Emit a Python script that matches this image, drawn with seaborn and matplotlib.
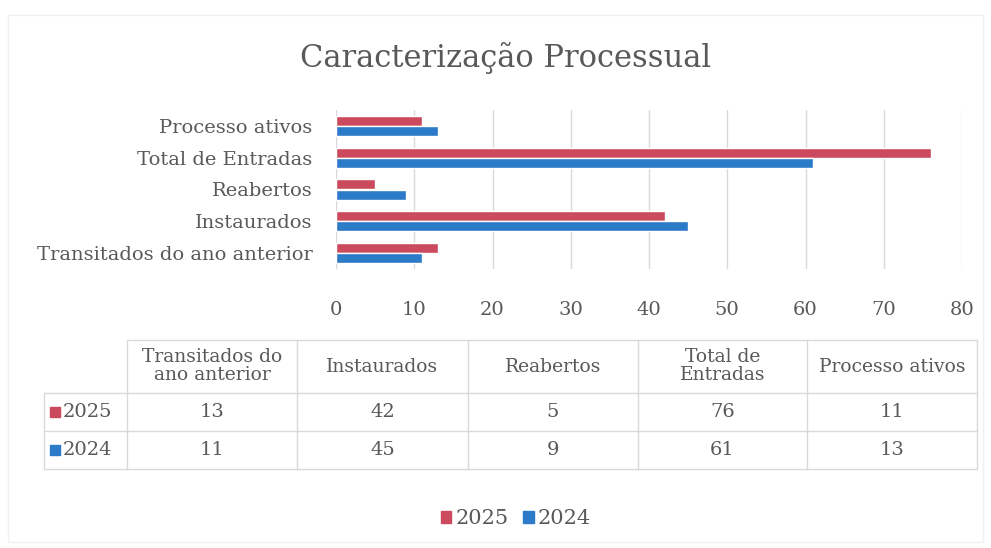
import seaborn as sns
import pandas as pd
import matplotlib.pyplot as plt
from matplotlib.patches import Rectangle

# Data
categories = ['Transitados do ano anterior', 'Instaurados', 'Reabertos',
              'Total de Entradas', 'Processo ativos']
table_headers = ['Transitados do\nano anterior', 'Instaurados', 'Reabertos',
                 'Total de\nEntradas', 'Processo ativos']
years = ['2025', '2024']
values_2025 = [13, 42, 5, 76, 11]
values_2024 = [11, 45, 9, 61, 13]
x_ticks = [0, 10, 20, 30, 40, 50, 60, 70, 80]

colors = {'2025': '#CC4A5E', '2024': '#2C7BC9'}
text_color = '#595959'
grid_color = '#D9D9D9'

sns.set_style('white')
plt.rcParams['font.family'] = ['DejaVu Serif']

# long format table for seaborn
df = pd.DataFrame({
    'categoria': categories * 2,
    'ano': ['2025'] * len(categories) + ['2024'] * len(categories),
    'valor': values_2025 + values_2024,
})

W, H = 991, 548
fig = plt.figure(figsize=(W / 100, H / 100), dpi=100)

# faint outer frame of the chart
fig.patches.append(Rectangle((8 / W, 6 / H), 975 / W, 527 / H, transform=fig.transFigure,
                             fill=False, edgecolor='#F0F0F0', linewidth=1))

fig.text(506 / W, 1 - 58 / H, 'Caracterização Processual', ha='center', va='center',
         fontsize=22, color=text_color)

ax = fig.add_axes([336 / W, 1 - 269 / H, 626 / W, 159 / H])
sns.barplot(data=df, y='categoria', x='valor', hue='ano', order=categories[::-1],
            hue_order=years, palette=colors, orient='h', width=0.64, saturation=1,
            ax=ax, legend=False)
ax.set_xlim(0, 80)
ax.set_xticks(x_ticks)
ax.set_xlabel('')
ax.set_ylabel('')
ax.grid(axis='x', color=grid_color, linewidth=1)
ax.set_axisbelow(True)
for s in ax.spines.values():
    s.set_visible(False)
ax.tick_params(axis='y', length=0, pad=17, labelsize=14, labelcolor=text_color)
ax.tick_params(axis='x', length=0, pad=23, labelsize=14, labelcolor=text_color)

# data table under the chart, in pixel coordinates
tab = fig.add_axes([0, 0, 1, 1])
tab.set_xlim(0, W)
tab.set_ylim(H, 0)
tab.axis('off')
col_edges = [127, 297, 468, 638, 807, 977]
row_edges = [340, 393, 431, 469]
line_kw = dict(color=grid_color, linewidth=1)
tab.plot([col_edges[0], col_edges[-1]], [row_edges[0]] * 2, **line_kw)
for y in row_edges[1:]:
    tab.plot([44, col_edges[-1]], [y, y], **line_kw)
for x in col_edges:
    tab.plot([x, x], [row_edges[0], row_edges[-1]], **line_kw)
tab.plot([44, 44], [row_edges[1], row_edges[-1]], **line_kw)

for i, h in enumerate(table_headers):
    cx = (col_edges[i] + col_edges[i + 1]) / 2
    tab.text(cx, (row_edges[0] + row_edges[1]) / 2, h, ha='center', va='center',
             fontsize=13.5, color=text_color, linespacing=1.0)
for r, (yr, vals) in enumerate(zip(years, [values_2025, values_2024])):
    cy = (row_edges[r + 1] + row_edges[r + 2]) / 2
    tab.add_patch(Rectangle((50, cy - 5), 10, 10, color=colors[yr]))
    tab.text(63, cy, yr, ha='left', va='center', fontsize=14, color=text_color)
    for i, v in enumerate(vals):
        cx = (col_edges[i] + col_edges[i + 1]) / 2
        tab.text(cx, cy, str(v), ha='center', va='center', fontsize=14, color=text_color)

# legend at the bottom
handles = [Rectangle((0, 0), 1, 1, color=colors[y]) for y in years]
fig.legend(handles, years, loc='center', bbox_to_anchor=(516 / W, 1 - 519 / H), ncol=2,
           frameon=False, fontsize=15, handlelength=0.5, handleheight=0.5,
           handletextpad=0.2, columnspacing=0.7, labelcolor=text_color)

fig.savefig('out.png', dpi=100)
